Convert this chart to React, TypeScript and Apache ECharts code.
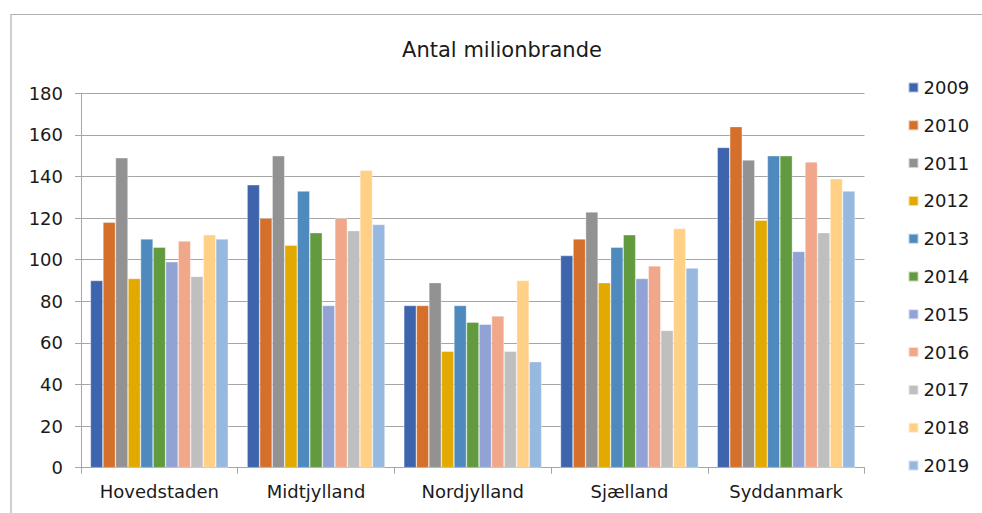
import React, { useEffect, useRef } from "react";
import * as echarts from "echarts";

const categories = ["Hovedstaden", "Midtjylland", "Nordjylland", "Sjælland", "Syddanmark"];
const years = ["2009", "2010", "2011", "2012", "2013", "2014", "2015", "2016", "2017", "2018", "2019"];
const colors = ["#3D64AD", "#D4702C", "#929292", "#E2AA00", "#4F8ABE", "#629A3F", "#90A3D4", "#F0A78A", "#BFBFBF", "#FFD085", "#98B9DF"];

const v2009 = [90, 136, 78, 102, 154];
const v2010 = [118, 120, 78, 110, 164];
const v2011 = [149, 150, 89, 123, 148];
const v2012 = [91, 107, 56, 89, 119];
const v2013 = [110, 133, 78, 106, 150];
const v2014 = [106, 113, 70, 112, 150];
const v2015 = [99, 78, 69, 91, 104];
const v2016 = [109, 120, 73, 97, 147];
const v2017 = [92, 114, 56, 66, 113];
const v2018 = [112, 143, 90, 115, 139];
const v2019 = [110, 117, 51, 96, 133];
const seriesValues = [v2009, v2010, v2011, v2012, v2013, v2014, v2015, v2016, v2017, v2018, v2019];

const title = "Antal milionbrande";
const font = "DejaVu Sans, Verdana, sans-serif";

export default function App() {
  const ref = useRef<HTMLDivElement>(null);
  useEffect(() => {
    if (!ref.current) return;
    const chart = echarts.init(ref.current, null, { renderer: "svg" });
    chart.setOption({
      animation: false,
      backgroundColor: "#fff",
      textStyle: { fontFamily: font },
      title: {
        text: title,
        left: 497,
        top: 34,
        textAlign: "center",
        textStyle: { fontFamily: font, fontSize: 21, fontWeight: "normal", color: "#1a1a1a" },
      },
      graphic: [
        {
          type: "rect",
          shape: { x: 11, y: 14.5, width: 1000, height: 600 },
          style: { fill: "none", stroke: "#b0b0b0", lineWidth: 1.2 },
          silent: true,
        },
      ],
      legend: {
        orient: "vertical",
        left: 907.5,
        top: 77.5,
        padding: 0,
        itemWidth: 10,
        itemHeight: 10,
        itemGap: 17.8,
        icon: "rect",
        textStyle: { fontFamily: font, fontSize: 18, color: "#1a1a1a", lineHeight: 20 },
        data: years,
      },
      grid: { left: 81, right: 117.5, top: 93.3, bottom: 45.3, containLabel: false },
      xAxis: {
        type: "category",
        data: categories,
        axisLine: { show: true, lineStyle: { color: "#a6a6a6", width: 1 } },
        axisTick: { show: true, length: 6, lineStyle: { color: "#a6a6a6" } },
        axisLabel: { fontFamily: font, fontSize: 18, color: "#1a1a1a", margin: 15 },
      },
      yAxis: {
        type: "value",
        min: 0,
        max: 180,
        interval: 20,
        axisLine: { show: true, lineStyle: { color: "#a6a6a6", width: 1 } },
        axisTick: { show: true, length: 6, lineStyle: { color: "#a6a6a6" } },
        splitLine: { show: true, lineStyle: { color: "#a6a6a6", width: 1 } },
        axisLabel: { fontFamily: font, fontSize: 18, color: "#1a1a1a", margin: 18 },
      },
      series: years.map((y, i) => ({
        name: y,
        type: "bar",
        data: seriesValues[i],
        barGap: "0%",
        barCategoryGap: "12%",
        itemStyle: { color: colors[i], borderColor: "rgba(255,255,255,0.6)", borderWidth: 0.6 },
      })),
    });
    return () => chart.dispose();
  }, []);
  return (
    <div
      ref={ref}
      style={{ position: "fixed", left: 0, top: 0, width: 982, height: 513 }}
    />
  );
}
